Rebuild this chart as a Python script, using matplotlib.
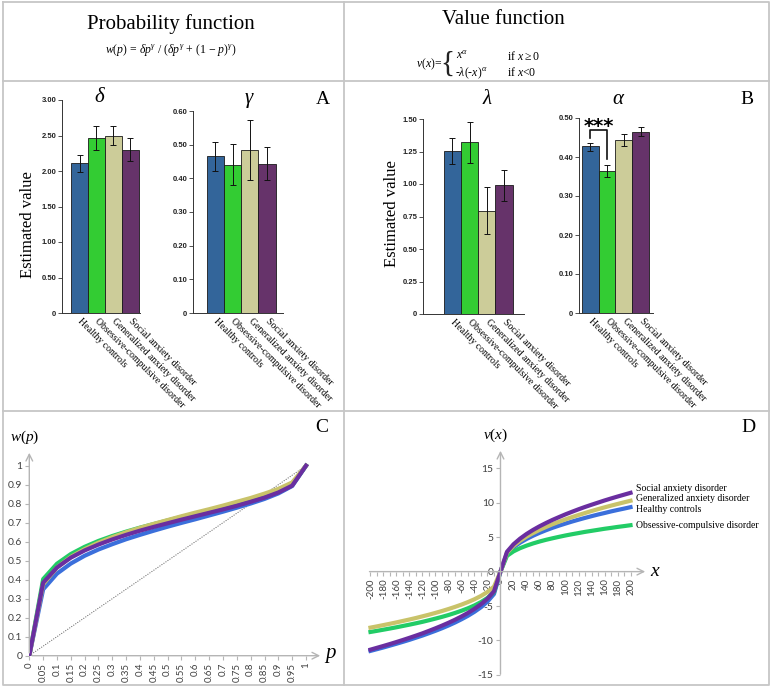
import matplotlib
matplotlib.use("Agg")
import matplotlib.pyplot as plt
from matplotlib.lines import Line2D
import numpy as np

plt.rcParams['mathtext.fontset'] = 'custom'
plt.rcParams['mathtext.rm'] = 'Liberation Serif'
plt.rcParams['mathtext.it'] = 'Liberation Serif:italic'
plt.rcParams['mathtext.bf'] = 'Liberation Serif:bold'

W, H = 772, 687
SERIF = 'Liberation Serif'
SANS = 'Lato'

# --- DATA ---
groups = ["Healthy controls", "Obsessive-compulsive disorder",
          "Generalized anxiety disorder", "Social anxiety disorder"]
bar_colors = ["#33659a", "#33cc33", "#cccc99", "#66336a"]

delta_mean = [2.11, 2.47, 2.50, 2.30]
delta_lo = [1.99, 2.30, 2.37, 2.14]
delta_hi = [2.22, 2.63, 2.64, 2.46]

gamma_mean = [0.465, 0.441, 0.483, 0.444]
gamma_lo = [0.421, 0.379, 0.394, 0.394]
gamma_hi = [0.508, 0.503, 0.572, 0.493]

lambda_mean = [1.257, 1.32, 0.796, 0.993]
lambda_lo = [1.157, 1.162, 0.619, 0.87]
lambda_hi = [1.357, 1.479, 0.98, 1.106]

alpha_mean = [0.427, 0.363, 0.444, 0.465]
alpha_lo = [0.416, 0.348, 0.427, 0.453]
alpha_hi = [0.435, 0.380, 0.459, 0.478]

# probability weighting curves (panel C)
p_vals = [0, 0.05, 0.1, 0.15, 0.2, 0.25, 0.3, 0.35, 0.4, 0.45, 0.5,
          0.55, 0.6, 0.65, 0.7, 0.75, 0.8, 0.85, 0.9, 0.95, 1]
p_labels = ["0", "0.05", "0.1", "0.15", "0.2", "0.25", "0.3", "0.35", "0.4", "0.45", "0.5",
            "0.55", "0.6", "0.65", "0.7", "0.75", "0.8", "0.85", "0.9", "0.95", "1"]
w_hc = [0, 0.349, 0.432, 0.485, 0.526, 0.559, 0.587, 0.613, 0.636, 0.658, 0.679,
        0.699, 0.718, 0.738, 0.758, 0.779, 0.801, 0.825, 0.854, 0.893, 1]
w_ocd = [0, 0.403, 0.484, 0.535, 0.573, 0.604, 0.630, 0.653, 0.674, 0.693, 0.712,
         0.730, 0.747, 0.764, 0.782, 0.800, 0.820, 0.841, 0.867, 0.900, 1]
w_gad = [0, 0.376, 0.464, 0.520, 0.561, 0.595, 0.624, 0.650, 0.673, 0.694, 0.714,
         0.734, 0.753, 0.771, 0.790, 0.810, 0.830, 0.853, 0.878, 0.912, 1]
w_sad = [0, 0.384, 0.464, 0.516, 0.554, 0.585, 0.612, 0.636, 0.658, 0.678, 0.697,
         0.716, 0.734, 0.752, 0.770, 0.789, 0.810, 0.832, 0.859, 0.895, 1]

# value function curves (panel D)
x_vals = [-200, -190, -180, -170, -160, -150, -140, -130, -120, -110, -100,
          -90, -80, -70, -60, -50, -40, -30, -20, -10, 0,
          10, 20, 30, 40, 50, 60, 70, 80, 90, 100,
          110, 120, 130, 140, 150, 160, 170, 180, 190, 200]
v_hc = [-11.51, -11.26, -11.01, -10.74, -10.47, -10.19, -9.90, -9.59, -9.28, -8.94,
        -8.59, -8.22, -7.82, -7.39, -6.92, -6.41, -5.83, -5.17, -4.35, -3.25, 0,
        2.64, 3.54, 4.20, 4.74, 5.21, 5.63, 6.01, 6.36, 6.68, 6.98,
        7.27, 7.54, 7.80, 8.05, 8.29, 8.51, 8.74, 8.95, 9.15, 9.36]
v_ocd = [-8.76, -8.60, -8.43, -8.26, -8.08, -7.89, -7.70, -7.50, -7.29, -7.06,
         -6.82, -6.57, -6.30, -6.00, -5.68, -5.32, -4.91, -4.42, -3.82, -2.98, 0,
         2.29, 2.94, 3.40, 3.77, 4.09, 4.37, 4.62, 4.84, 5.05, 5.25,
         5.43, 5.60, 5.77, 5.92, 6.07, 6.22, 6.35, 6.49, 6.61, 6.74]
v_gad = [-8.13, -7.95, -7.76, -7.57, -7.37, -7.16, -6.95, -6.73, -6.49, -6.25,
         -5.99, -5.72, -5.43, -5.12, -4.79, -4.42, -4.01, -3.53, -2.95, -2.18, 0,
         2.75, 3.74, 4.47, 5.07, 5.59, 6.06, 6.48, 6.88, 7.24, 7.59,
         7.91, 8.22, 8.51, 8.80, 9.07, 9.33, 9.58, 9.82, 10.06, 10.29]
v_sad = [-11.33, -11.06, -10.79, -10.51, -10.22, -9.92, -9.61, -9.29, -8.96, -8.60,
         -8.23, -7.84, -7.43, -6.99, -6.51, -5.99, -5.40, -4.73, -3.93, -2.86, 0,
         2.88, 3.97, 4.78, 5.46, 6.05, 6.58, 7.06, 7.51, 7.92, 8.32,
         8.69, 9.05, 9.39, 9.71, 10.02, 10.33, 10.62, 10.90, 11.17, 11.44]

line_colors = {"hc": "#3b6fdb", "ocd": "#22cc66", "gad": "#c9c36a", "sad": "#6a2ea0"}

fig = plt.figure(figsize=(W / 100, H / 100), dpi=100)


def ax_px(x0, y0, x1, y1):
    """Axes from pixel box (y measured from top)."""
    return fig.add_axes([x0 / W, 1 - y1 / H, (x1 - x0) / W, (y1 - y0) / H])


def ftxt(x, y, s, **kw):
    kw.setdefault('ha', 'center')
    kw.setdefault('va', 'center')
    fig.text(x / W, 1 - y / H, s, **kw)


def fline(xs, ys, **kw):
    fig.add_artist(Line2D([x / W for x in xs], [1 - y / H for y in ys], **kw))


# --- table frame ---
frame = dict(color='#c6c6c6', lw=1.3)
fline([3, 769, 769, 3, 3], [2, 2, 685, 685, 2], **frame)
fline([344, 344], [2, 685], **frame)
fline([3, 769], [81, 81], **frame)
fline([3, 769], [411, 411], **frame)

# --- header ---
ftxt(171, 24, "Probability function", family=SERIF, fontsize=15)
ftxt(503, 19, "Value function", family=SERIF, fontsize=15)
ftxt(171, 50, r'$w(p)$ = $\delta p^{\gamma}$ / ($\delta p^{\gamma}$ + (1 $-$ $p$)$^{\gamma}$)',
     family=SERIF, fontsize=8.5)
ftxt(442, 64, r'$v(x)$=', family=SERIF, fontsize=8.5, ha='right')
ftxt(447, 64, "{", family=SERIF, fontsize=21, color='#222222')
ftxt(456, 56, r'$x^{\alpha}$', family=SERIF, fontsize=8.5, ha='left')
ftxt(455, 73, r'-$\lambda$(-$x$)$^{\alpha}$', family=SERIF, fontsize=8.5, ha='left')
ftxt(507, 56, r'if $x$$\geq$$0$', family=SERIF, fontsize=8.5, ha='left')
ftxt(507, 73, r'if $x$<$0$', family=SERIF, fontsize=8.5, ha='left')


# --- bar panels ---
def bar_panel(box, xlim, ymax, step, means, lo, hi):
    ax = ax_px(*box)
    pos = np.arange(len(groups))
    yerr = [np.subtract(means, lo), np.subtract(hi, means)]
    ax.bar(pos, means, width=1.0, color=bar_colors, edgecolor='#1a1a1a', linewidth=0.6)
    ax.errorbar(pos, means, yerr=yerr, fmt='none', ecolor='#111111',
                elinewidth=0.7, capsize=2.5, capthick=0.7)
    ax.set_xlim(*xlim)
    ax.set_ylim(0, ymax)
    ticks = np.arange(0, ymax + step / 2, step)
    ax.set_yticks(ticks)
    ax.set_yticklabels(['0'] + ['%.2f' % t for t in ticks[1:]],
                       fontsize=5.5, family='Liberation Sans', fontweight='bold', color='#222222')
    ax.set_xticks(pos)
    ax.set_xticklabels(groups, rotation=-45, ha='left', va='center',
                       rotation_mode='anchor', fontsize=7, family=SERIF)
    ax.tick_params(axis='x', length=0, pad=5)
    ax.tick_params(axis='y', length=3, width=0.6, pad=1, color='#333333')
    for s in ['top', 'right']:
        ax.spines[s].set_visible(False)
    for s in ['left', 'bottom']:
        ax.spines[s].set_linewidth(0.7)
        ax.spines[s].set_color('#333333')
    ax.patch.set_alpha(0)
    return ax


bar_panel((62, 100, 140, 313), (-1.03, 3.56), 3.0, 0.5, delta_mean, delta_lo, delta_hi)
bar_panel((193, 111, 283, 313), (-1.29, 3.92), 0.6, 0.1, gamma_mean, gamma_lo, gamma_hi)
bar_panel((423, 119, 524, 314), (-1.69, 4.15), 1.5, 0.25, lambda_mean, lambda_lo, lambda_hi)
ax_a = bar_panel((579, 118, 653, 313), (-0.66, 3.72), 0.5, 0.1, alpha_mean, alpha_lo, alpha_hi)

# significance bracket HC vs OCD
ax_a.plot([0, 0, 1, 1], [0.448, 0.468, 0.468, 0.395], color='#111111', lw=1.2, clip_on=False)
ax_a.text(0.5, 0.478, "***", ha='center', va='center', fontsize=14,
          family='DejaVu Sans', fontweight='bold', clip_on=False)

ftxt(99, 98, "δ", family=SERIF, style='italic', fontsize=15)
ftxt(249, 98, "γ", family=SERIF, style='italic', fontsize=15)
ftxt(487, 99, "λ", family=SERIF, style='italic', fontsize=15)
ftxt(618, 100, "α", family=SERIF, style='italic', fontsize=15)
ftxt(323, 100, "A", family=SERIF, fontsize=14)
ftxt(747, 100, "B", family=SERIF, fontsize=14)
ftxt(28, 225, "Estimated value", family=SERIF, fontsize=12, rotation=90)
ftxt(392, 214, "Estimated value", family=SERIF, fontsize=12, rotation=90)

# --- panel C: probability weighting ---
axis_grey = '#b5b5b5'
tick_col = '#404040'
axc = ax_px(29.3, 450, 323, 655.7)
axc.set_xlim(0, 1.0614)
axc.set_ylim(0, 1.0826)
axc.plot(p_vals, p_vals, color='#555555', lw=0.7, ls=(0, (1, 1.5)))
axc.plot(p_vals, w_hc, color=line_colors['hc'], lw=3)
axc.plot(p_vals, w_ocd, color=line_colors['ocd'], lw=3)
axc.plot(p_vals, w_gad, color=line_colors['gad'], lw=3)
axc.plot(p_vals, w_sad, color=line_colors['sad'], lw=3)
for s in axc.spines.values():
    s.set_visible(False)
arrow = dict(arrowstyle='->', color=axis_grey, lw=1, mutation_scale=12)
axc.annotate('', xy=(1, 0), xytext=(0, 0), xycoords='axes fraction', arrowprops=arrow)
axc.annotate('', xy=(0, 1), xytext=(0, 0), xycoords='axes fraction', arrowprops=arrow)
axc.set_xticks(p_vals)
axc.set_xticklabels(p_labels, rotation=90, fontsize=7, family=SANS, color=tick_col)
yt = [0, 0.1, 0.2, 0.3, 0.4, 0.5, 0.6, 0.7, 0.8, 0.9, 1]
axc.set_yticks(yt)
axc.set_yticklabels(["0", "0.1", "0.2", "0.3", "0.4", "0.5", "0.6", "0.7", "0.8", "0.9", "1"],
                    fontsize=7.5, family=SANS, color=tick_col)
axc.tick_params(length=3, width=0.8, color=axis_grey, pad=2)
axc.patch.set_alpha(0)
ftxt(25, 437, r'$w(p)$', fontsize=11)
ftxt(331, 655, r'$p$', fontsize=15)
ftxt(322, 428, "C", family=SERIF, fontsize=14)

# --- panel D: value function ---
axd = ax_px(366.7, 448, 648, 677)
axd.set_xlim(-205.8, 226.9)
axd.set_ylim(-15.3, 17.95)
axd.plot(x_vals, v_hc, color=line_colors['hc'], lw=3)
axd.plot(x_vals, v_ocd, color=line_colors['ocd'], lw=3)
axd.plot(x_vals, v_gad, color=line_colors['gad'], lw=3)
axd.plot(x_vals, v_sad, color=line_colors['sad'], lw=3)
for s in axd.spines.values():
    s.set_visible(False)
axd.annotate('', xy=(226.9, 0), xytext=(-205.8, 0), xycoords='data', arrowprops=arrow)
axd.annotate('', xy=(0, 17.95), xytext=(0, -15.3), xycoords='data', arrowprops=arrow)
axd.spines['left'].set_position(('data', 0))
axd.spines['bottom'].set_position(('data', 0))
xt = [-200, -180, -160, -140, -120, -100, -80, -60, -40, -20, 0,
      20, 40, 60, 80, 100, 120, 140, 160, 180, 200]
axd.set_xticks(xt)
axd.set_xticklabels([str(v) for v in xt], rotation=90, fontsize=7, family=SANS, color=tick_col)
axd.set_xticks(x_vals, minor=True)
ytd = [-15, -10, -5, 0, 5, 10, 15]
axd.set_yticks(ytd)
axd.set_yticklabels([str(v) for v in ytd], fontsize=7.5, family=SANS, color=tick_col)
axd.tick_params(which='both', length=3, width=0.8, color=axis_grey, pad=2)
axd.patch.set_alpha(0)

legend_items = [("Social anxiety disorder", 12.1), ("Generalized anxiety disorder", 10.55),
                ("Healthy controls", 9.06), ("Obsessive-compulsive disorder", 6.63)]
for name, yv in legend_items:
    axd.text(208, yv, name, family=SERIF, fontsize=7, va='center', ha='left', clip_on=False)

ftxt(496, 435, r'$v(x)$', fontsize=11)
ftxt(655, 571, r'$x$', fontsize=14)
ftxt(748, 428, "D", family=SERIF, fontsize=14)

fig.savefig("out.png", dpi=100)
